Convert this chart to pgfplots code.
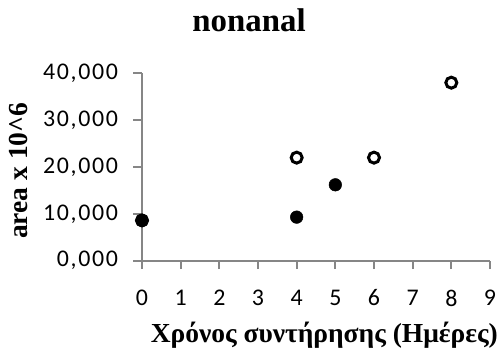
\documentclass[border=0pt]{standalone}
\usepackage{fontspec}
\setmainfont{Liberation Serif}
\newfontfamily\calibri[LetterSpace=7]{Carlito}
\usepackage{pgfplots}
\pgfplotsset{compat=1.18}
\definecolor{axgray}{RGB}{134,134,134}
\begin{document}
\begin{tikzpicture}
\useasboundingbox (0,0) rectangle (498bp,352bp);
\begin{axis}[
  at={(142bp,91.3bp)}, anchor=south west,
  scale only axis,
  width=348bp, height=187.4bp,
  xmin=0, xmax=9, ymin=0, ymax=40,
  xtick={0,1,...,9}, ytick={0,10,...,40},
  axis x line*=bottom, axis y line*=left,
  axis line style={axgray, line width=1.8bp},
  major tick style={axgray, line width=1.8bp},
  tick align=outside, major tick length=8.5bp,
  clip=false,
  /pgf/number format/assume math mode=true,
  yticklabel style={/pgf/number format/.cd, fixed, fixed zerofill, precision=3, use comma, 1000 sep={}, /tikz/.cd, xshift=-12bp},
  xticklabel style={/pgf/number format/.cd, fixed, precision=0, /tikz/.cd, yshift=-17bp},
  tick label style={font=\calibri\fontsize{24}{26}\selectfont},
  title={\textbf{nonanal}},
  title style={font=\fontsize{33}{36}\selectfont, at={(axis description cs:0.3075,1.19)}, anchor=base, inner sep=0pt},
  xlabel={\textbf{Χρόνος συντήρησης (Ημέρες)}},
  xlabel style={font=\fontsize{27.6}{30}\selectfont, at={(axis description cs:0.524,-0.4376)}, anchor=base, inner sep=0pt},
  ylabel={\textbf{area x 10\^{}6}},
  ylabel style={font=\fontsize{27.6}{30}\selectfont, at={(axis description cs:-0.3276,0.48)}, anchor=base, inner sep=0pt},
]
\addplot[only marks, mark=*, mark size=5.5bp, mark options={draw=black, fill=white, line width=3bp}]
  coordinates {(0,8.6) (4,22.0) (6,22.0) (8,38.0)};
\addplot[only marks, mark=*, mark size=6.3bp, mark options={draw=black, fill=black, line width=0.5bp}]
  coordinates {(0,8.6) (4,9.3) (5,16.2)};
\end{axis}
\end{tikzpicture}
\end{document}
